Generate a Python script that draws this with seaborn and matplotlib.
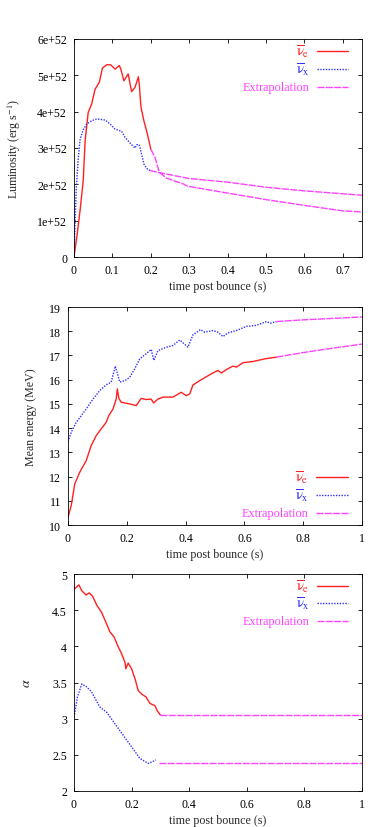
import numpy as np
import seaborn as sns
import matplotlib
matplotlib.use("Agg")
import matplotlib.pyplot as plt
from matplotlib.ticker import FuncFormatter, MultipleLocator

# ── data ────────────────────────────────────────────────
# luminosity, units of 1e52 erg/s
t_lum_e = [0, 0.008, 0.016, 0.024, 0.029, 0.037, 0.046, 0.055, 0.066, 0.074,
           0.085, 0.0955, 0.107, 0.118, 0.122, 0.130, 0.141, 0.150, 0.159,
           0.1675, 0.170, 0.1745, 0.182, 0.191, 0.2]
lum_e = [0, 0.6, 1.3, 2.1, 3.2, 3.98, 4.21, 4.62, 4.81, 5.2,
         5.29, 5.29, 5.17, 5.27, 5.17, 4.85, 5.04, 4.55, 4.67,
         4.96, 4.75, 4.12, 3.75, 3.39, 2.97]
t_lum_x = [0, 0.003, 0.006, 0.011, 0.016, 0.024, 0.033, 0.046, 0.059, 0.081,
           0.094, 0.107, 0.124, 0.133, 0.150, 0.159, 0.163, 0.170, 0.176,
           0.182, 0.191, 0.198]
lum_x = [0, 1.0, 1.9, 2.7, 3.25, 3.5, 3.66, 3.75, 3.8, 3.77,
         3.66, 3.52, 3.46, 3.29, 3.09, 3.0, 3.09, 3.09, 2.83,
         2.56, 2.42, 2.38]
t_lum_e_ext = [0.2, 0.211, 0.222, 0.241, 0.285, 0.295, 0.4, 0.5, 0.6, 0.7, 0.75]
lum_e_ext = [2.97, 2.74, 2.33, 2.17, 2.01, 1.95, 1.76, 1.58, 1.42, 1.27, 1.24]
t_lum_x_ext = [0.198, 0.223, 0.3, 0.4, 0.5, 0.6, 0.7, 0.75]
lum_x_ext = [2.38, 2.32, 2.16, 2.06, 1.92, 1.82, 1.74, 1.70]

# mean energy, MeV
t_en_e = [0, 0.011, 0.023, 0.04, 0.062, 0.079, 0.096, 0.113, 0.13, 0.139,
          0.153, 0.164, 0.168, 0.173, 0.181, 0.21, 0.232, 0.249, 0.266, 0.283,
          0.291, 0.306, 0.323, 0.357, 0.385, 0.402, 0.414, 0.425, 0.448, 0.493,
          0.51, 0.522, 0.539, 0.561, 0.573, 0.595, 0.629, 0.669, 0.709]
en_e = [10.32, 10.8, 11.7, 12.18, 12.66, 13.28, 13.69, 13.97, 14.24, 14.52,
        14.79, 15.2, 15.62, 15.23, 15.07, 15.0, 14.93, 15.23, 15.18, 15.2,
        15.04, 15.2, 15.28, 15.28, 15.48, 15.34, 15.41, 15.78, 15.96, 16.28,
        16.38, 16.28, 16.42, 16.56, 16.52, 16.7, 16.75, 16.86, 16.93]
t_en_x = [0, 0.011, 0.028, 0.062, 0.085, 0.108, 0.13, 0.147, 0.161, 0.176,
          0.193, 0.21, 0.227, 0.244, 0.266, 0.283, 0.292, 0.306, 0.334, 0.357,
          0.38, 0.408, 0.425, 0.451, 0.465, 0.493, 0.51, 0.527, 0.544, 0.573,
          0.607, 0.64, 0.675, 0.688, 0.709]
en_x = [13.44, 13.83, 14.24, 14.79, 15.2, 15.55, 15.79, 15.9, 16.56, 15.9,
        15.96, 16.1, 16.45, 16.86, 17.07, 17.25, 16.8, 17.2, 17.34, 17.41,
        17.64, 17.34, 17.85, 18.07, 17.96, 18.03, 17.96, 17.78, 17.93, 18.03,
        18.2, 18.24, 18.4, 18.33, 18.4]
t_en_e_ext = [0.709, 0.8, 0.9, 1.0]
en_e_ext = [16.93, 17.12, 17.3, 17.47]
t_en_x_ext = [0.709, 0.8, 0.9, 1.0]
en_x_ext = [18.4, 18.47, 18.53, 18.59]

# pinching parameter alpha
t_al_e = [0, 0.003, 0.017, 0.027, 0.042, 0.053, 0.065, 0.079, 0.096, 0.111,
          0.125, 0.139, 0.154, 0.165, 0.177, 0.180, 0.188, 0.2, 0.212, 0.223,
          0.235, 0.25, 0.264, 0.281, 0.289, 0.3]
al_e = [4.78, 4.80, 4.85, 4.77, 4.71, 4.74, 4.69, 4.57, 4.47, 4.33,
        4.20, 4.13, 3.99, 3.90, 3.78, 3.69, 3.77, 3.69, 3.55, 3.39,
        3.34, 3.30, 3.21, 3.18, 3.11, 3.05]
t_al_x = [0, 0.012, 0.027, 0.044, 0.061, 0.09, 0.113, 0.142, 0.171, 0.2,
          0.229, 0.258, 0.275, 0.284]
al_x = [3.02, 3.30, 3.48, 3.44, 3.37, 3.16, 3.09, 2.93, 2.77, 2.61,
        2.45, 2.38, 2.41, 2.43]
t_al_e_ext = [0.3, 1.0]
al_e_ext = [3.05, 3.05]
t_al_x_ext = [0.296, 1.0]
al_x_ext = [2.39, 2.39]

labels = [r'$\overline{\mathrm{\nu}}_{\mathrm{e}}$',
          r'$\overline{\mathrm{\nu}}_{\mathrm{x}}$', 'Extrapolation']

RED, BLUE, MAG = '#ff2020', '#3030ff', '#ff40ff'
styles = [dict(color=RED, linestyle='-', linewidth=1.0),
          dict(color=BLUE, linestyle=(0, (1, 1)), linewidth=1.0),
          dict(color=MAG, linestyle=(0, (5, 1)), linewidth=1.0)]

# ── style ───────────────────────────────────────────────
sns.set_theme(style='ticks')
plt.rcParams['font.family'] = ['Liberation Serif', 'DejaVu Serif']
plt.rcParams['mathtext.fontset'] = 'stix'
plt.rcParams['axes.unicode_minus'] = False

fig = plt.figure(figsize=(3.82, 8.28), dpi=100)
ax1 = fig.add_axes([0.1937, 0.6884, 0.754, 0.2633])
ax2 = fig.add_axes([0.178, 0.3647, 0.7696, 0.2633])
ax3 = fig.add_axes([0.1937, 0.0435, 0.754, 0.262])


def draw(ax, series):
    for (tx, vy), st in series:
        sns.lineplot(x=tx, y=vy, ax=ax, sort=False, estimator=None, **st)


def legend(ax, ys):
    # gnuplot style key: text right aligned, sample on the right
    for y, lab, st in zip(ys, labels, styles):
        ax.plot([0.845, 0.952], [y, y], transform=ax.transAxes, **st)
        fs = 10.5 if lab.startswith('$') else 8.8
        ax.text(0.818, y, lab, transform=ax.transAxes, ha='right', va='center',
                color=st['color'], fontsize=fs)


def frame(ax):
    ax.tick_params(direction='in', top=True, right=True, length=3,
                   width=0.6, labelsize=8.6, colors='black', pad=5)
    for s in ax.spines.values():
        s.set_visible(True)
        s.set_linewidth(0.6)
        s.set_color('black')
    ax.set_xlabel('time post bounce (s)', fontsize=8.6, labelpad=3)


# ── 1. Luminosity ───────────────────────────────────────
draw(ax1, [((t_lum_e, lum_e), styles[0]), ((t_lum_x, lum_x), styles[1]),
           ((t_lum_e_ext, lum_e_ext), styles[2]),
           ((t_lum_x_ext, lum_x_ext), styles[2])])
ax1.set_xlim(0, 0.75)
ax1.set_ylim(0, 6)
ax1.xaxis.set_major_locator(MultipleLocator(0.1))
ax1.yaxis.set_major_locator(MultipleLocator(1))
ax1.xaxis.set_major_formatter(FuncFormatter(lambda v, p: '0' if abs(v) < 1e-9 else f'{v:g}'))
ax1.yaxis.set_major_formatter(FuncFormatter(lambda v, p: '0' if abs(v) < 1e-9 else f'{v:.0f}e+52'))
frame(ax1)
ax1.set_ylabel(r'Luminosity (erg s$^{-1}$)', fontsize=8.6, labelpad=10)
legend(ax1, [0.945, 0.862, 0.78])

# ── 2. Mean energy ──────────────────────────────────────
draw(ax2, [((t_en_e, en_e), styles[0]), ((t_en_x, en_x), styles[1]),
           ((t_en_e_ext, en_e_ext), styles[2]),
           ((t_en_x_ext, en_x_ext), styles[2])])
ax2.set_xlim(0, 1)
ax2.set_ylim(10, 19)
ax2.xaxis.set_major_locator(MultipleLocator(0.2))
ax2.yaxis.set_major_locator(MultipleLocator(1))
ax2.xaxis.set_major_formatter(FuncFormatter(lambda v, p: f'{v:g}'))
frame(ax2)
ax2.set_ylabel('Mean energy (MeV)', fontsize=8.6, labelpad=9)
legend(ax2, [0.22, 0.138, 0.055])

# ── 3. Alpha ────────────────────────────────────────────
draw(ax3, [((t_al_e, al_e), styles[0]), ((t_al_x, al_x), styles[1]),
           ((t_al_e_ext, al_e_ext), styles[2]),
           ((t_al_x_ext, al_x_ext), styles[2])])
ax3.set_xlim(0, 1)
ax3.set_ylim(2, 5)
ax3.xaxis.set_major_locator(MultipleLocator(0.2))
ax3.yaxis.set_major_locator(MultipleLocator(0.5))
ax3.xaxis.set_major_formatter(FuncFormatter(lambda v, p: f'{v:g}'))
ax3.yaxis.set_major_formatter(FuncFormatter(lambda v, p: f'{v:g}'))
frame(ax3)
ax3.set_ylabel(r'$\alpha$', fontsize=10, labelpad=14, rotation=90)
legend(ax3, [0.945, 0.866, 0.783])

plt.savefig('out.png', dpi=100)
print("saved out.png")
